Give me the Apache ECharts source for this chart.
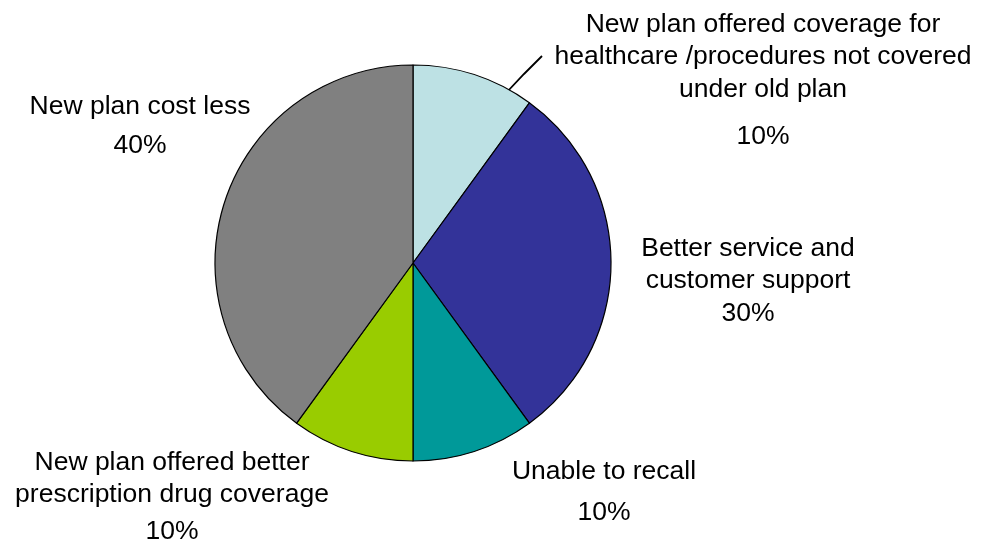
<!DOCTYPE html>
<html>
<head>
<meta charset="utf-8">
<script src="https://cdn.jsdelivr.net/npm/echarts@6/dist/echarts.min.js"></script>
<style>
  html, body { margin: 0; padding: 0; background: #ffffff; }
  #chart { width: 990px; height: 542px; }
</style>
</head>
<body>
<div id="chart"></div>
<script>
// Reasons for switching plans (share of respondents, %)
const categories = [
  'New plan offered coverage for\nhealthcare /procedures not covered\nunder old plan',
  'Better service and\ncustomer support',
  'Unable to recall',
  'New plan offered better\nprescription drug coverage',
  'New plan cost less'
];
const shares = [10, 30, 10, 10, 40];

const sliceColors = ['#BDE1E4', '#333399', '#009999', '#99CC00', '#808080'];

// Label placement: centre x, top y of the first line, gap before the percentage
const labelSpots = [
  { x: 763, y: 8,   pctGap: 62 },
  { x: 748, y: 232, pctGap: 34 },
  { x: 604, y: 455, pctGap: 50 },
  { x: 172, y: 446, pctGap: 42 },
  { x: 140, y: 90,  pctGap: 46 }
];

const FONT = 'Liberation Sans, Arial, sans-serif';
const chart = echarts.init(document.getElementById('chart'));

const data = categories.map((name, i) => ({
  name: name,
  value: shares[i],
  itemStyle: { color: sliceColors[i] },
  label: {
    rich: {
      n: { fontSize: 26.5, lineHeight: 32.5, color: '#000', fontFamily: FONT, align: 'center' },
      p: { fontSize: 26.5, lineHeight: labelSpots[i].pctGap, color: '#000', fontFamily: FONT, align: 'center' }
    }
  },
  labelLine: { show: i === 0 }
}));

chart.setOption({
  animation: false,
  series: [{
    type: 'pie',
    center: [413, 263],
    radius: 198,
    startAngle: 90,
    clockwise: true,
    avoidLabelOverlap: false,
    itemStyle: { borderColor: '#000', borderWidth: 1.2 },
    label: {
      show: true,
      position: 'outside',
      formatter: p => p.name.split('\n').map(s => '{n|' + s + '}').join('\n') + '\n{p|' + Math.round(p.percent) + '%}'
    },
    labelLine: {
      show: true,
      lineStyle: { color: '#000', width: 1.8 }
    },
    labelLayout: function (params) {
      const s = labelSpots[params.dataIndex];
      const out = { x: s.x, y: s.y, align: 'center', verticalAlign: 'top' };
      if (params.dataIndex === 0) {
        out.labelLinePoints = [[507, 92], [524, 74], [542, 56]];
      }
      return out;
    },
    emphasis: { disabled: true },
    data: data
  }]
});
</script>
</body>
</html>
